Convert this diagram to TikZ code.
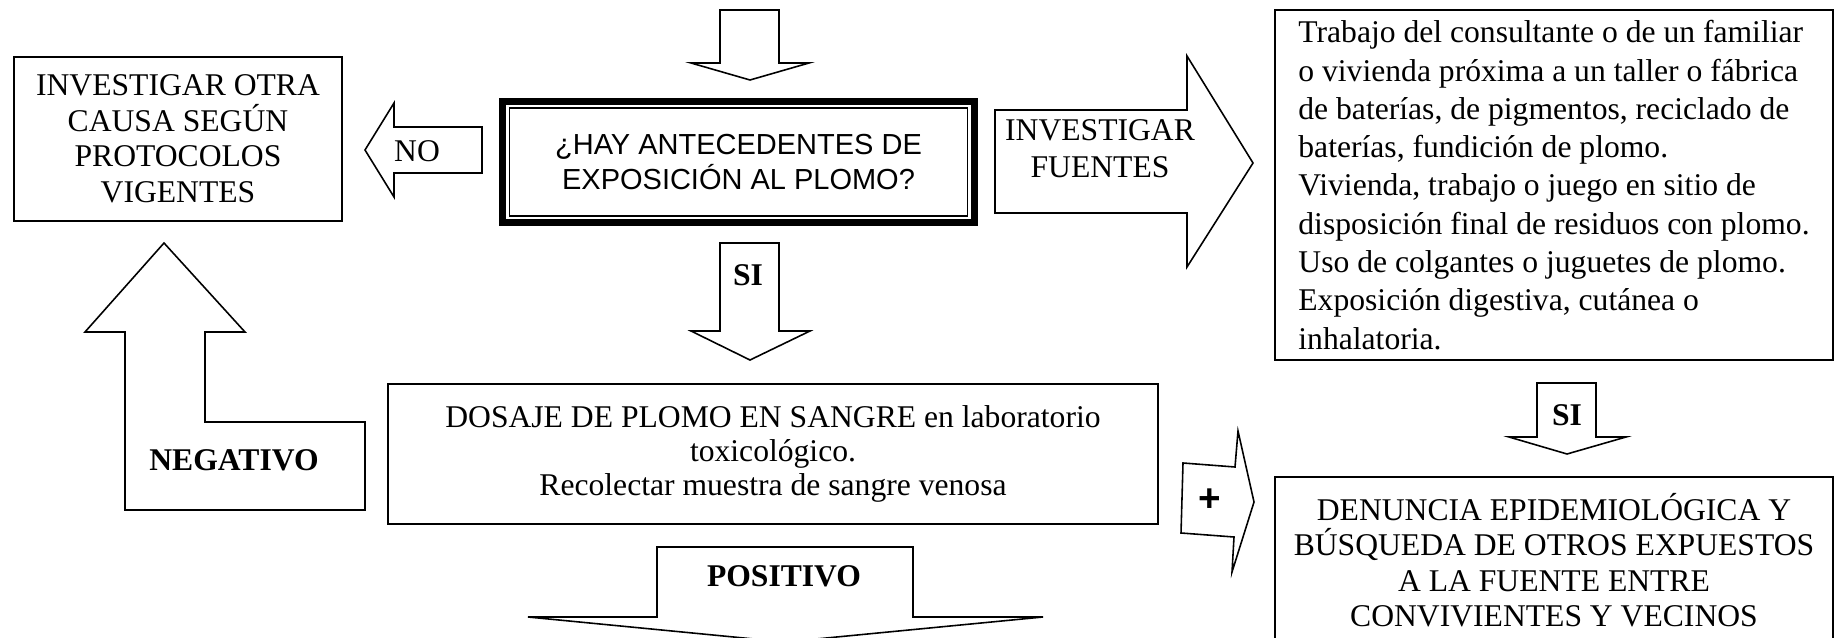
\documentclass[tikz,border=0pt]{standalone}
\usepackage{fontspec}
\setmainfont{Liberation Serif}
\newfontfamily\arialfont{Liberation Sans}
\usepackage{tikz}
\usetikzlibrary{calc}
\tikzset
{
  box/.style={draw,line width=1pt,align=center,inner sep=0pt,outer sep=0pt,font=\fontsize{18}{20.2}\selectfont},
  thickbox/.style={draw,line width=3.6pt,align=center,inner sep=0pt,outer sep=0pt,font=\arialfont\fontsize{16.5}{20}\selectfont},
  blockarrow/.style={draw,line width=0.9pt,line join=miter,fill=white},
  arrowtext/.style={align=center,font=\fontsize{18}{21}\selectfont},
  boldtext/.style={font=\fontsize{18}{21}\selectfont\bfseries}
}

\begin{document}
\begin{tikzpicture}[x=0.02cm,y=-0.02cm]
        \useasboundingbox (0,0) rectangle (1834,638);
        \clip (0,0) rectangle (1834,638);

        % Boxes
        \node[box,minimum width=6.56cm,minimum height=3.28cm] (otra) at (178,139)
            {INVESTIGAR OTRA\\CAUSA SEGÚN\\PROTOCOLOS\\VIGENTES};
        \node[thickbox,minimum width=9.44cm,minimum height=2.42cm] (pregunta) at (738.5,162)
            {¿HAY ANTECEDENTES DE\\EXPOSICIÓN AL PLOMO?};
        \draw[line width=0.6pt] ($(pregunta.north west)+(6.5,6.5)$) rectangle ($(pregunta.south east)+(-6.5,-6.5)$);
        \node[box,align=left,minimum width=11.16cm,minimum height=7cm,
              font=\fontsize{18}{21.8}\selectfont] (fuentes) at (1554,185)
            {Trabajo del consultante o de un familiar\\
             o vivienda próxima a un taller o fábrica\\
             de baterías, de pigmentos, reciclado de\\
             baterías, fundición de plomo.\\
             Vivienda, trabajo o juego en sitio de\\
             disposición final de residuos con plomo.\\
             Uso de colgantes o juguetes de plomo.\\
             Exposición digestiva, cutánea o\\
             inhalatoria.};
        \node[box,line width=1.3pt,minimum width=15.4cm,minimum height=2.8cm,
              font=\fontsize{18}{19.5}\selectfont] (dosaje) at (773,454)
            {DOSAJE DE PLOMO EN SANGRE en laboratorio\\toxicológico.\\Recolectar muestra de sangre venosa};
        \node[box,minimum width=11.16cm,minimum height=3.32cm] (denuncia) at (1554,560)
            {DENUNCIA EPIDEMIOLÓGICA Y\\BÚSQUEDA DE OTROS EXPUESTOS\\A LA FUENTE ENTRE\\CONVIVIENTES Y VECINOS};

        % Block arrows
        \draw[blockarrow] (720,10) -- (779,10) -- (779,63) -- (809,63) -- (750,80) -- (691,63) -- (720,63) -- cycle;
        \draw[blockarrow] (482,127) -- (394,127) -- (394,103) -- (365,150) -- (394,197) -- (394,173) -- (482,173) -- cycle;
        \node[arrowtext] (no) at (417,151) {NO};
        \draw[blockarrow] (995,110) -- (1187,110) -- (1187,56) -- (1253,163) -- (1187,267) -- (1187,213) -- (995,213) -- cycle;
        \node[arrowtext] (investigar) at (1100,149) {INVESTIGAR\\FUENTES};
        \draw[blockarrow] (720,243) -- (779,243) -- (779,331) -- (810,331) -- (750,360) -- (691,331) -- (720,331) -- cycle;
        \node[boldtext] (si) at (748,275) {SI};
        \draw[blockarrow] (164,243) -- (245,332) -- (205,332) -- (205,422) -- (365,422) -- (365,510)
            -- (125,510) -- (125,332) -- (85,332) -- cycle;
        \node[boldtext] (negativo) at (234,460) {NEGATIVO};
        \draw[blockarrow] (657,547) -- (913,547) -- (913,617) -- (1043,617) -- (785,642) -- (528,617) -- (657,617) -- cycle;
        \node[boldtext] (positivo) at (784,576) {POSITIVO};
        \draw[blockarrow] (1183,463) -- (1235,467) -- (1238,431) -- (1254,502) -- (1232,572) -- (1234,537) -- (1181,533) -- cycle;
        \node[font=\arialfont\fontsize{22}{24}\selectfont\bfseries] (mas) at (1210,500) {+};
        \draw[blockarrow] (1537,383) -- (1596,383) -- (1596,437) -- (1626,437) -- (1567,454) -- (1509,437) -- (1537,437) -- cycle;
        \node[boldtext] (si2) at (1567,415) {SI};
    \end{tikzpicture}
\end{document}
